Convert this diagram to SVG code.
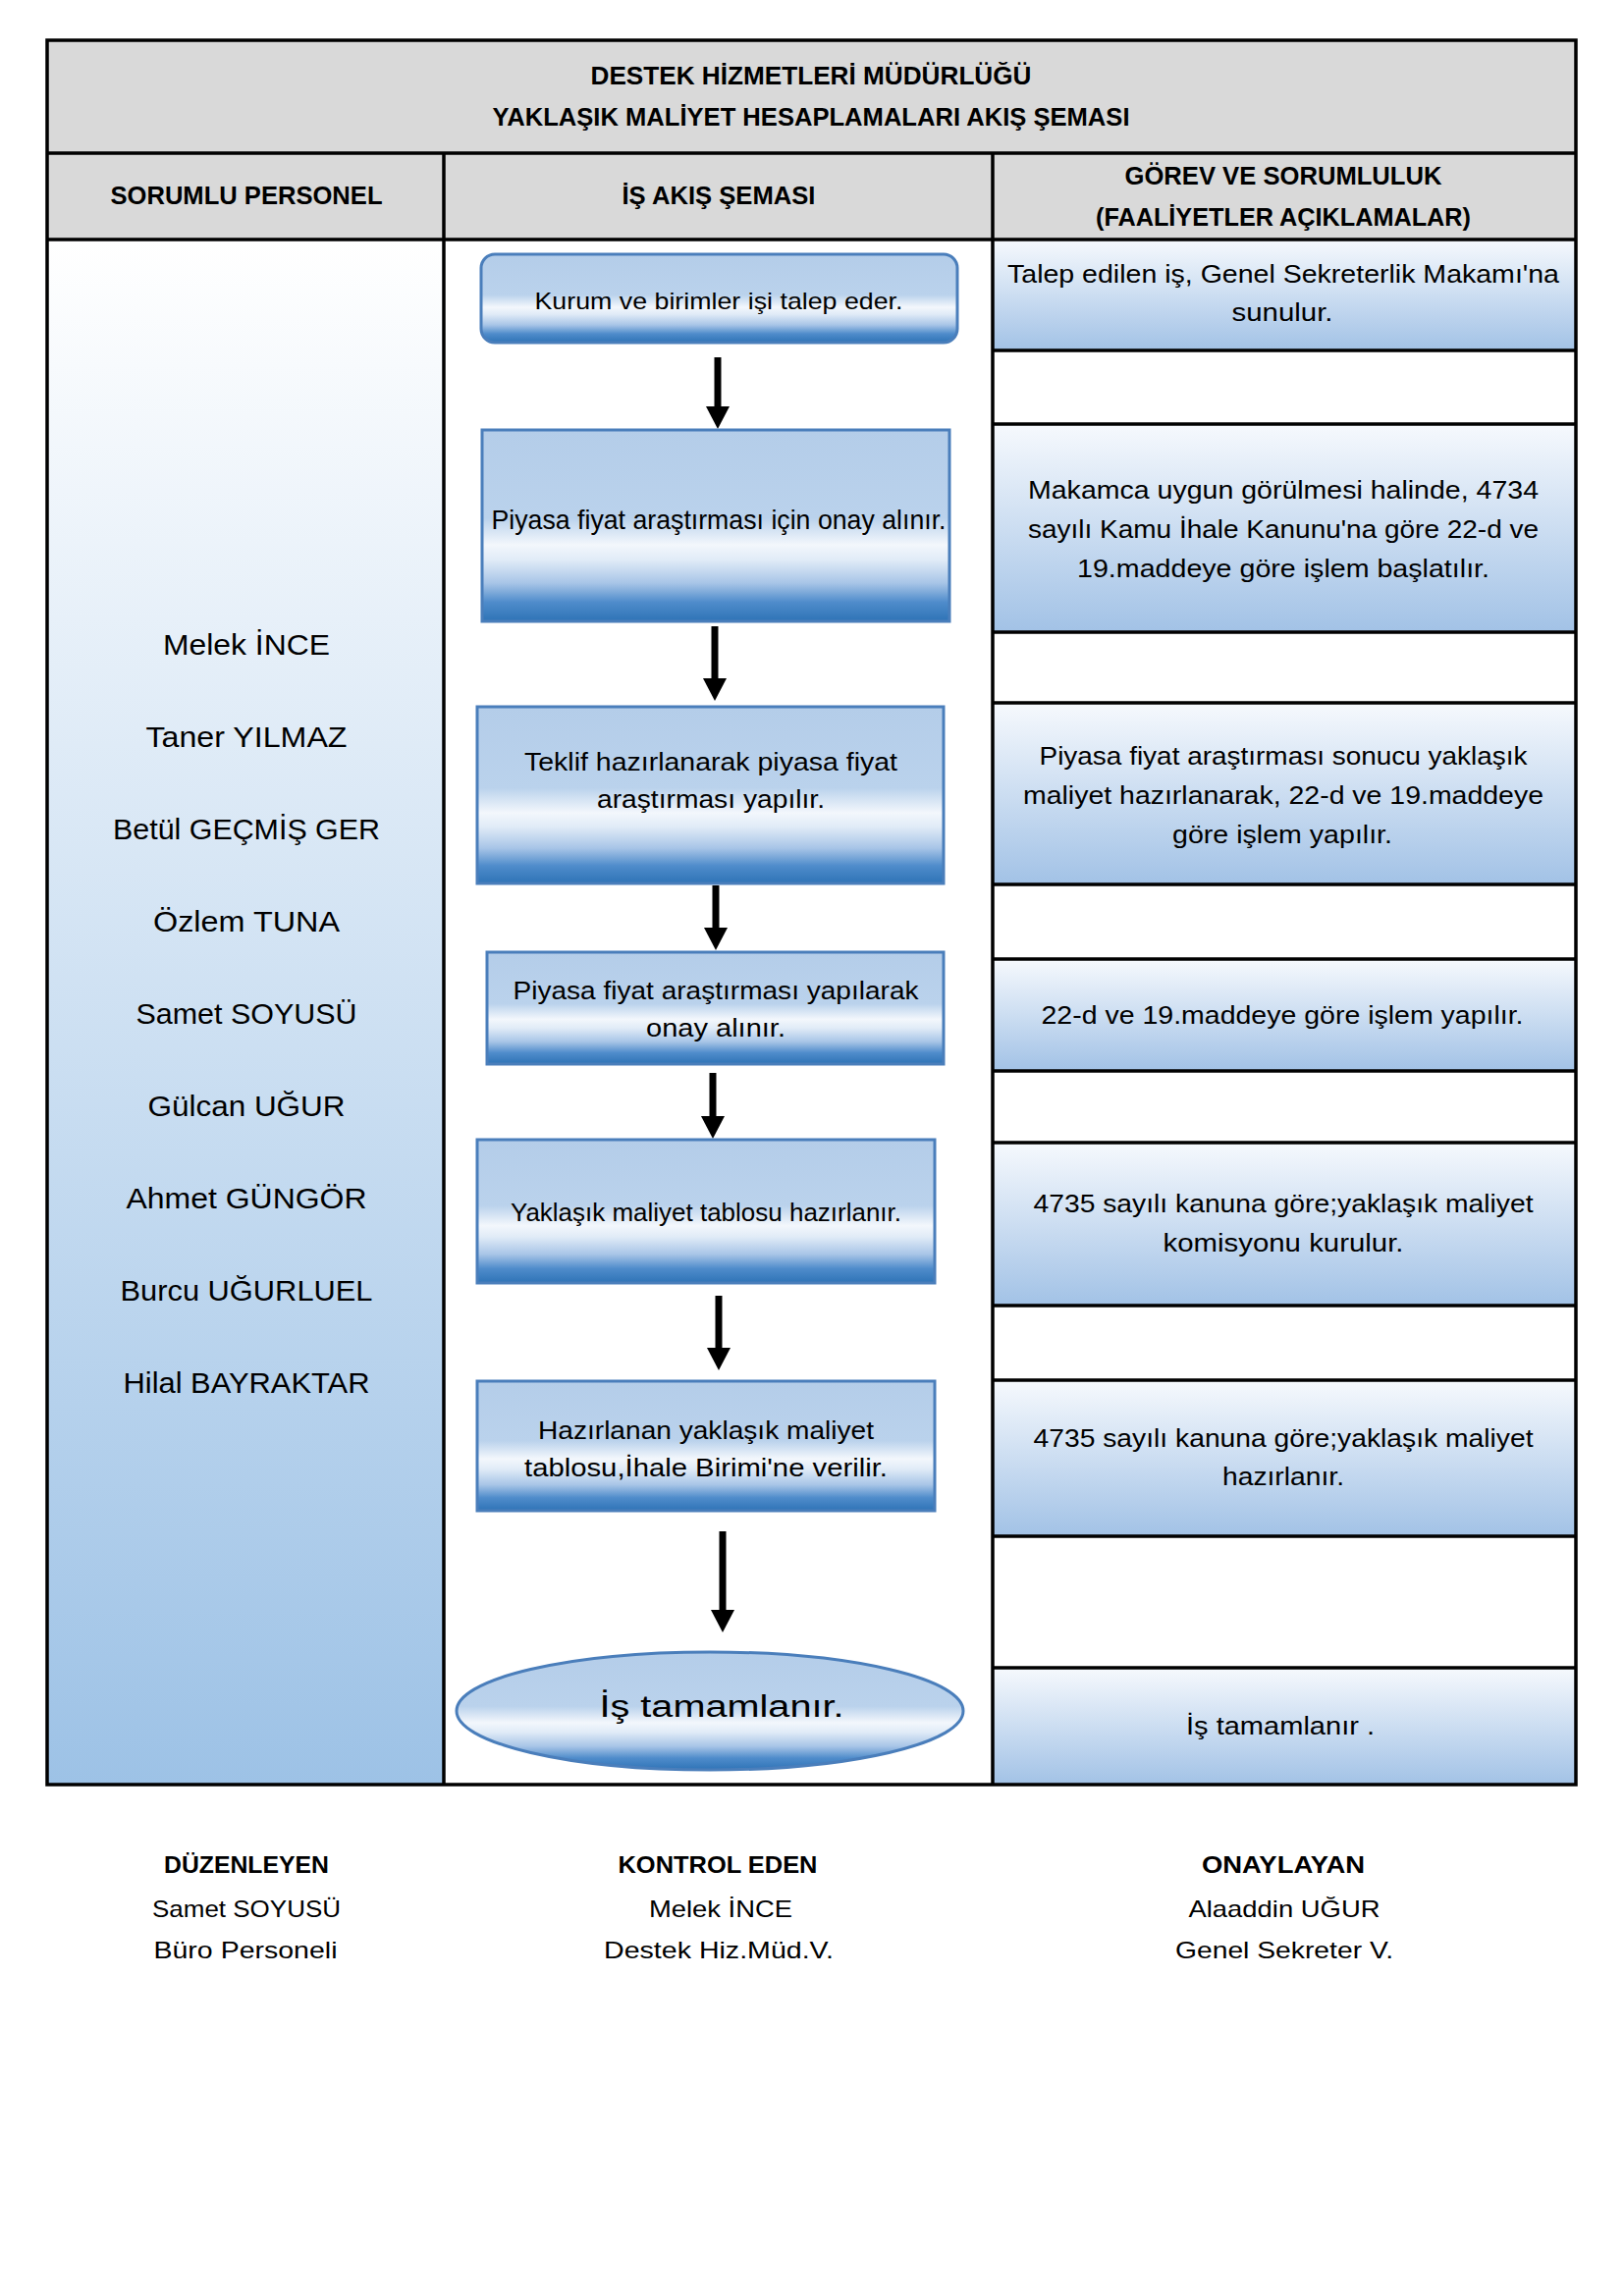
<svg xmlns="http://www.w3.org/2000/svg" width="1654" height="2339" viewBox="0 0 1654 2339">
<defs>
<style>
text{font-family:"Liberation Sans",Arial,sans-serif;fill:#000;text-anchor:middle}
.hdr{font-size:26px;font-weight:bold}
.nm{font-size:30px}
.fl{font-size:26px}
.rc{font-size:26px}
.ft{font-size:24px}
.ftb{font-size:23px;font-weight:bold}
.box{stroke:#4A7EBB;stroke-width:3;fill:url(#gBox)}
.gray{fill:#D9D9D9}
.row{fill:url(#gRow)}
.ln{stroke:#000;stroke-width:3.5;fill:none}
.conn{stroke:#000;stroke-width:7;fill:none;marker-end:url(#ah)}
</style>
<linearGradient id="gBox" x1="0" y1="0" x2="0" y2="1">
<stop offset="0" stop-color="#B4CDE9"/>
<stop offset="0.46" stop-color="#BAD2EC"/>
<stop offset="0.6" stop-color="#F3F7FC"/>
<stop offset="0.68" stop-color="#E0EBF7"/>
<stop offset="0.8" stop-color="#A8C5E7"/>
<stop offset="0.9" stop-color="#4F8CCB"/>
<stop offset="1" stop-color="#2E73B6"/>
</linearGradient>
<linearGradient id="gLeft" gradientUnits="userSpaceOnUse" x1="0" y1="244" x2="0" y2="1818">
<stop offset="0" stop-color="#FFFFFF"/>
<stop offset="1" stop-color="#9DC2E6"/>
</linearGradient>
<linearGradient id="gRow" x1="0" y1="0" x2="0" y2="1">
<stop offset="0" stop-color="#F6F9FD"/>
<stop offset="1" stop-color="#A2C2E6"/>
</linearGradient>
<marker id="ah" markerUnits="userSpaceOnUse" markerWidth="23" markerHeight="24" viewBox="0 0 23 24" refX="0" refY="12" orient="auto">
<path d="M0,0 L23,12 L0,24 z" fill="#000"/>
</marker>
</defs>
<rect x="0" y="0" width="1654" height="2339" fill="#FFFFFF"/>

<g id="table">
<rect class="gray" x="48" y="41" width="1557" height="203"/>
<rect x="48" y="244" width="404" height="1574" fill="url(#gLeft)"/>
<rect x="452" y="244" width="559" height="1574" fill="#FFFFFF"/>
<rect x="1011" y="244" width="594" height="1574" fill="#FFFFFF"/>
<rect class="row" x="1011" y="244" width="594" height="113"/>
<rect class="row" x="1011" y="432" width="594" height="212"/>
<rect class="row" x="1011" y="716" width="594" height="185"/>
<rect class="row" x="1011" y="977" width="594" height="114"/>
<rect class="row" x="1011" y="1164" width="594" height="166"/>
<rect class="row" x="1011" y="1406" width="594" height="159"/>
<rect class="row" x="1011" y="1699" width="594" height="119"/>
<path class="ln" d="M48,156 H1605 M48,244 H1605 M452,156 V1818 M1011,156 V1818 M1011,357 H1605 M1011,432 H1605 M1011,644 H1605 M1011,716 H1605 M1011,901 H1605 M1011,977 H1605 M1011,1091 H1605 M1011,1164 H1605 M1011,1330 H1605 M1011,1406 H1605 M1011,1565 H1605 M1011,1699 H1605"/>
<rect class="ln" x="48" y="41" width="1557" height="1777"/>
</g>

<g id="title">
<text class="hdr" x="826" y="86" textLength="449" lengthAdjust="spacingAndGlyphs">DESTEK HİZMETLERİ MÜDÜRLÜĞÜ</text>
<text class="hdr" x="826" y="128" textLength="649" lengthAdjust="spacingAndGlyphs">YAKLAŞIK MALİYET HESAPLAMALARI AKIŞ ŞEMASI</text>
</g>
<g id="headers">
<text class="hdr" x="251" y="208" textLength="277" lengthAdjust="spacingAndGlyphs">SORUMLU PERSONEL</text>
<text class="hdr" x="732" y="208" textLength="197" lengthAdjust="spacingAndGlyphs">İŞ AKIŞ ŞEMASI</text>
<text class="hdr" x="1307" y="188" textLength="323" lengthAdjust="spacingAndGlyphs">GÖREV VE SORUMLULUK</text>
<text class="hdr" x="1307" y="230" textLength="382" lengthAdjust="spacingAndGlyphs">(FAALİYETLER AÇIKLAMALAR)</text>
</g>

<g id="personnel">
<text class="nm" x="251" y="667" textLength="170" lengthAdjust="spacingAndGlyphs">Melek İNCE</text>
<text class="nm" x="251" y="761" textLength="205" lengthAdjust="spacingAndGlyphs">Taner YILMAZ</text>
<text class="nm" x="251" y="855" textLength="272" lengthAdjust="spacingAndGlyphs">Betül GEÇMİŞ GER</text>
<text class="nm" x="251" y="949" textLength="190" lengthAdjust="spacingAndGlyphs">Özlem TUNA</text>
<text class="nm" x="251" y="1043" textLength="225" lengthAdjust="spacingAndGlyphs">Samet SOYUSÜ</text>
<text class="nm" x="251" y="1137" textLength="201" lengthAdjust="spacingAndGlyphs">Gülcan UĞUR</text>
<text class="nm" x="251" y="1231" textLength="245" lengthAdjust="spacingAndGlyphs">Ahmet GÜNGÖR</text>
<text class="nm" x="251" y="1325" textLength="257" lengthAdjust="spacingAndGlyphs">Burcu UĞURLUEL</text>
<text class="nm" x="251" y="1419" textLength="251" lengthAdjust="spacingAndGlyphs">Hilal BAYRAKTAR</text>
</g>

<g id="connectors">
<line class="conn" x1="731" y1="364" x2="731" y2="414"/>
<line class="conn" x1="728" y1="638" x2="728" y2="691"/>
<line class="conn" x1="729" y1="902" x2="729" y2="945"/>
<line class="conn" x1="726" y1="1093" x2="726" y2="1137"/>
<line class="conn" x1="732" y1="1320" x2="732" y2="1373"/>
<line class="conn" x1="736" y1="1560" x2="736" y2="1640"/>
</g>

<g id="n1">
<rect class="box" x="490" y="259" width="485" height="90" rx="14" ry="14"/>
<text class="fl" style="font-size:24px" x="732" y="315" textLength="375" lengthAdjust="spacingAndGlyphs">Kurum ve birimler işi talep eder.</text>
</g>
<g id="n2">
<rect class="box" x="491" y="438" width="476" height="195"/>
<text class="fl" style="font-size:28px" x="732" y="539" textLength="463" lengthAdjust="spacingAndGlyphs">Piyasa fiyat araştırması için onay alınır.</text>
</g>
<g id="n3">
<rect class="box" x="486" y="720" width="475" height="180"/>
<text class="fl" x="724" y="785" textLength="380" lengthAdjust="spacingAndGlyphs">Teklif hazırlanarak piyasa fiyat</text>
<text class="fl" x="724" y="823" textLength="232" lengthAdjust="spacingAndGlyphs">araştırması yapılır.</text>
</g>
<g id="n4">
<rect class="box" x="496" y="970" width="465" height="114"/>
<text class="fl" x="729" y="1018" textLength="413" lengthAdjust="spacingAndGlyphs">Piyasa fiyat araştırması yapılarak</text>
<text class="fl" x="729" y="1056" textLength="142" lengthAdjust="spacingAndGlyphs">onay alınır.</text>
</g>
<g id="n5">
<rect class="box" x="486" y="1161" width="466" height="146"/>
<text class="fl" x="719" y="1244" textLength="398" lengthAdjust="spacingAndGlyphs">Yaklaşık maliyet tablosu hazırlanır.</text>
</g>
<g id="n6">
<rect class="box" x="486" y="1407" width="466" height="132"/>
<text class="fl" x="719" y="1466" textLength="342" lengthAdjust="spacingAndGlyphs">Hazırlanan yaklaşık maliyet</text>
<text class="fl" x="719" y="1504" textLength="370" lengthAdjust="spacingAndGlyphs">tablosu,İhale Birimi'ne verilir.</text>
</g>
<g id="n7">
<ellipse class="box" cx="723" cy="1743" rx="258" ry="60"/>
<text class="fl" style="font-size:31px" x="735" y="1749" textLength="249" lengthAdjust="spacingAndGlyphs">İş tamamlanır.</text>
</g>

<g id="duties">
<text class="rc" x="1307" y="288" textLength="562" lengthAdjust="spacingAndGlyphs">Talep edilen iş, Genel Sekreterlik Makamı'na</text>
<text class="rc" x="1306" y="327" textLength="103" lengthAdjust="spacingAndGlyphs">sunulur.</text>
<text class="rc" x="1307" y="508" textLength="520" lengthAdjust="spacingAndGlyphs">Makamca uygun görülmesi halinde, 4734</text>
<text class="rc" x="1307" y="548" textLength="520" lengthAdjust="spacingAndGlyphs">sayılı Kamu İhale Kanunu'na göre 22-d ve</text>
<text class="rc" x="1307" y="588" textLength="420" lengthAdjust="spacingAndGlyphs">19.maddeye göre işlem başlatılır.</text>
<text class="rc" x="1307" y="779" textLength="497" lengthAdjust="spacingAndGlyphs">Piyasa fiyat araştırması sonucu yaklaşık</text>
<text class="rc" x="1307" y="819" textLength="530" lengthAdjust="spacingAndGlyphs">maliyet hazırlanarak, 22-d ve 19.maddeye</text>
<text class="rc" x="1306" y="859" textLength="224" lengthAdjust="spacingAndGlyphs">göre işlem yapılır.</text>
<text class="rc" x="1306" y="1043" textLength="491" lengthAdjust="spacingAndGlyphs">22-d ve 19.maddeye göre işlem yapılır.</text>
<text class="rc" x="1307" y="1235" textLength="509" lengthAdjust="spacingAndGlyphs">4735 sayılı kanuna göre;yaklaşık maliyet</text>
<text class="rc" x="1307" y="1275" textLength="245" lengthAdjust="spacingAndGlyphs">komisyonu kurulur.</text>
<text class="rc" x="1307" y="1474" textLength="509" lengthAdjust="spacingAndGlyphs">4735 sayılı kanuna göre;yaklaşık maliyet</text>
<text class="rc" x="1307" y="1513" textLength="124" lengthAdjust="spacingAndGlyphs">hazırlanır.</text>
<text class="rc" x="1304" y="1767" textLength="192" lengthAdjust="spacingAndGlyphs">İş tamamlanır .</text>
</g>

<g id="signatures">
<text class="ftb" x="251" y="1908" textLength="168" lengthAdjust="spacingAndGlyphs">DÜZENLEYEN</text>
<text class="ft" x="251" y="1953" textLength="192" lengthAdjust="spacingAndGlyphs">Samet SOYUSÜ</text>
<text class="ft" x="250" y="1995" textLength="187" lengthAdjust="spacingAndGlyphs">Büro Personeli</text>
<text class="ftb" x="731" y="1908" textLength="203" lengthAdjust="spacingAndGlyphs">KONTROL EDEN</text>
<text class="ft" x="734" y="1953" textLength="146" lengthAdjust="spacingAndGlyphs">Melek İNCE</text>
<text class="ft" x="732" y="1995" textLength="234" lengthAdjust="spacingAndGlyphs">Destek Hiz.Müd.V.</text>
<text class="ftb" x="1307" y="1908" textLength="166" lengthAdjust="spacingAndGlyphs">ONAYLAYAN</text>
<text class="ft" x="1308" y="1953" textLength="195" lengthAdjust="spacingAndGlyphs">Alaaddin UĞUR</text>
<text class="ft" x="1308" y="1995" textLength="222" lengthAdjust="spacingAndGlyphs">Genel Sekreter V.</text>
</g>
</svg>
